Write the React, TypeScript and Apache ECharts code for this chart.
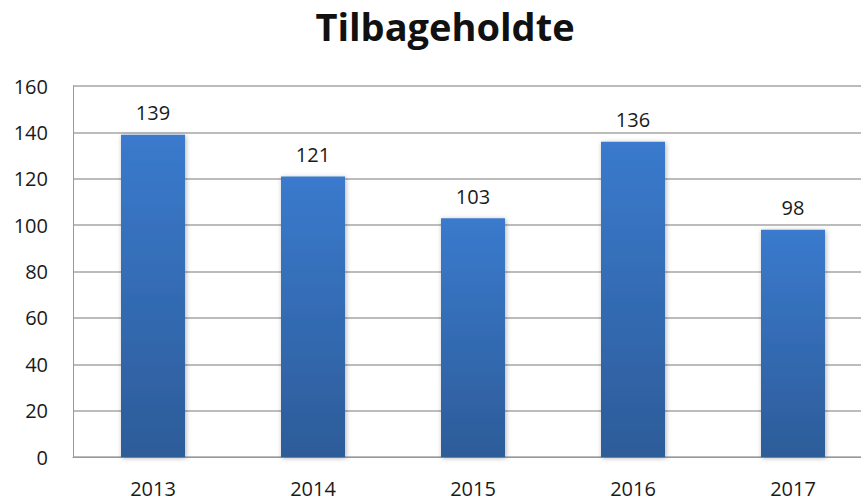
import React, { useEffect, useRef } from "react";
import * as echarts from "echarts";

const categories = ["2013", "2014", "2015", "2016", "2017"];
const values = [139, 121, 103, 136, 98];
const yTicks = [0, 20, 40, 60, 80, 100, 120, 140, 160];
const titleText = "Tilbageholdte";

export default function App() {
  const ref = useRef<HTMLDivElement>(null);
  useEffect(() => {
    if (!ref.current) return;
    const chart = echarts.init(ref.current, undefined, { renderer: "svg" });
    chart.setOption({
      animation: false,
      backgroundColor: "#ffffff",
      title: {
        text: titleText,
        left: 440,
        textAlign: "center",
        top: 2,
        textStyle: { fontFamily: "Open Sans", fontWeight: "bold", fontSize: 38, color: "#111" },
      },
      grid: {
        left: 73,
        width: 800,
        top: 86,
        height: 371,
        containLabel: false,
        outerBoundsMode: "none",
      },
      xAxis: {
        type: "category",
        data: categories,
        axisLine: { show: true, lineStyle: { color: "#999", width: 1 } },
        axisTick: { show: false },
        axisLabel: { fontFamily: "Open Sans", fontSize: 20, color: "#1a1a1a", margin: 21 },
      },
      yAxis: {
        type: "value",
        min: yTicks[0],
        max: yTicks[yTicks.length - 1],
        interval: 20,
        axisLine: { show: true, lineStyle: { color: "#999", width: 1 } },
        axisTick: { show: false },
        splitLine: { lineStyle: { color: "#a6a6a6", width: 1.5 } },
        axisLabel: { fontFamily: "Open Sans", fontSize: 20, color: "#1a1a1a", margin: 25 },
      },
      series: [
        {
          type: "bar",
          data: values,
          barWidth: 64,
          itemStyle: {
            color: new echarts.graphic.LinearGradient(0, 0, 0, 1, [
              { offset: 0, color: "#3a7acd" },
              { offset: 1, color: "#2d5c99" },
            ]),
            shadowColor: "rgba(0,0,0,0.3)",
            shadowBlur: 5,
            shadowOffsetX: 1,
            shadowOffsetY: 1,
          },
          label: {
            show: true,
            position: "top",
            distance: 12,
            fontFamily: "Open Sans",
            fontSize: 20,
            color: "#1a1a1a",
          },
        },
      ],
    });
    return () => chart.dispose();
  }, []);
  return (
    <div
      ref={ref}
      style={{ position: "fixed", left: 0, top: 0, width: 861, height: 501 }}
    />
  );
}
